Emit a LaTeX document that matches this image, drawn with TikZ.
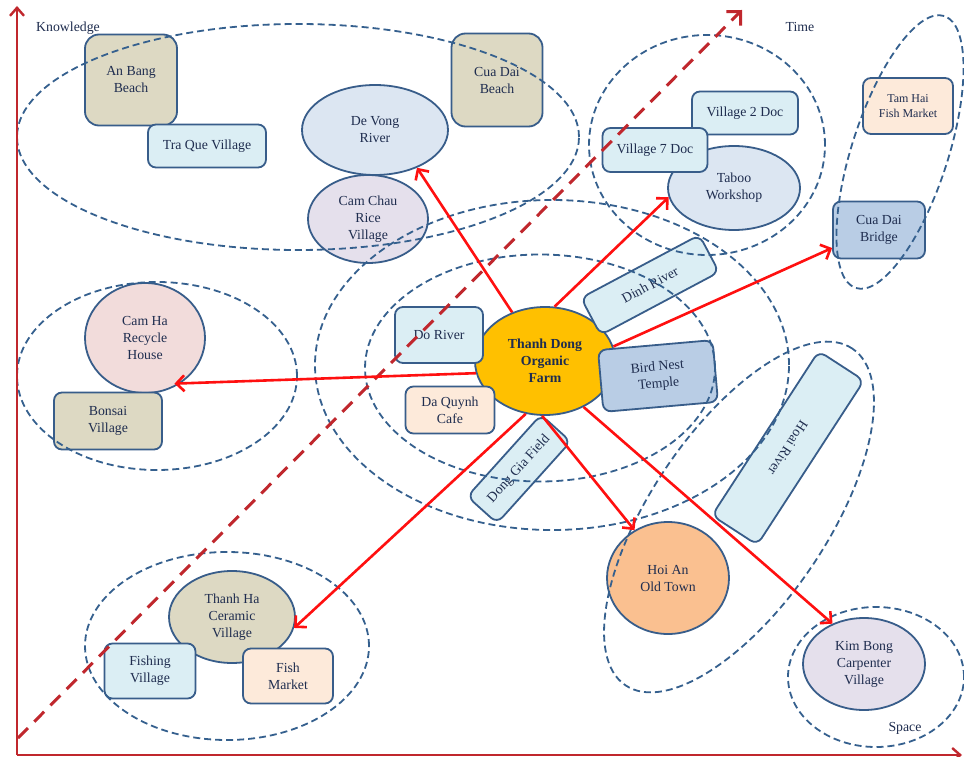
\documentclass[tikz,border=0pt]{standalone}
\usepackage{fontspec}
\setmainfont{Liberation Serif}
\usetikzlibrary{shapes.geometric,arrows.meta}
\definecolor{bord}{HTML}{385D8A}
\definecolor{zonec}{HTML}{35608E}
\definecolor{txt}{HTML}{1F2D4F}
\definecolor{tanf}{HTML}{DDD9C3}
\definecolor{lbluef}{HTML}{DBEEF4}
\definecolor{obluef}{HTML}{DCE6F2}
\definecolor{lavf}{HTML}{E5E0EC}
\definecolor{peachf}{HTML}{FDEADA}
\definecolor{mbluef}{HTML}{B9CDE5}
\definecolor{pinkf}{HTML}{F2DCDB}
\definecolor{orangef}{HTML}{FAC090}
\definecolor{goldf}{HTML}{FFC000}
\definecolor{axisc}{HTML}{C0272D}
\definecolor{linkc}{HTML}{FF1010}
\newcommand\nfont{\fontsize{13.8}{17}\selectfont}
\newcommand\sfont{\fontsize{12}{14.5}\selectfont}
\begin{document}
\begin{tikzpicture}[x=1pt,y=-1pt,
  box/.style={draw=bord, line width=1.8pt, rounded corners=8pt, align=center, inner sep=2pt, font=\nfont, text=txt},
  oval/.style={ellipse, draw=bord, line width=1.8pt, align=center, inner sep=0pt, font=\nfont, text=txt},
  zone/.style={ellipse, draw=zonec, line width=1.8pt, dash pattern=on 7pt off 4pt, inner sep=0pt},
  link/.style={draw=linkc, line width=2.6pt, -{Straight Barb[length=8pt,width=16pt,line width=2.6pt]}},
  axisline/.style={draw=axisc, line width=2.4pt, -{Straight Barb[length=8pt,width=14pt,line width=2.4pt]}},
  diag/.style={draw=axisc, line width=3pt, dash pattern=on 14pt off 9pt, -{Straight Barb[length=10pt,width=20pt,line width=3pt]}},
  lbl/.style={font=\nfont, text=txt, inner sep=0pt}]
\useasboundingbox[fill=white] (0,0) rectangle (964,757);

% nodes
\node[box, fill=tanf, minimum width=92pt, minimum height=91pt, rounded corners=14pt] (anbang) at (131,80) {An Bang\\Beach};
\node[box, fill=lbluef, minimum width=118pt, minimum height=43pt] (traque) at (207,146) {Tra Que Village};
\node[oval, fill=obluef, minimum width=146pt, minimum height=90pt] (devong) at (375,130) {De Vong\\River};
\node[oval, fill=lavf, minimum width=120pt, minimum height=88pt] (camchau) at (368,219) {Cam Chau\\Rice\\Village};
\node[box, fill=tanf, minimum width=91pt, minimum height=93pt, rounded corners=14pt] (cuadai) at (497,80) {Cua Dai\\Beach};
\node[box, fill=lbluef, minimum width=106pt, minimum height=43pt] (vtwo) at (745,113) {Village 2 Doc};
\node[oval, fill=obluef, minimum width=132pt, minimum height=84pt] (taboo) at (734,188) {Taboo\\Workshop};
\node[box, fill=lbluef, minimum width=105pt, minimum height=44pt] (vseven) at (655,150) {Village 7 Doc};
\node[box, fill=peachf, minimum width=90pt, minimum height=56pt, font=\sfont] (tamhai) at (908,106) {Tam Hai\\Fish Market};
\node[box, fill=mbluef, minimum width=92pt, minimum height=57pt] (bridge) at (879,230) {Cua Dai\\Bridge};
\node[oval, fill=goldf, minimum width=140pt, minimum height=108pt, font=\nfont\bfseries] (farm) at (545,361) {Thanh Dong\\Organic\\Farm};
\node[box, fill=lbluef, minimum width=134pt, minimum height=42pt, rotate=28] (dinh) at (650,285) {Dinh River};
\node[box, fill=lbluef, minimum width=88pt, minimum height=56pt] (doriver) at (439,335) {Do River};
\node[box, fill=peachf, minimum width=89pt, minimum height=47pt] (daquynh) at (450,410) {Da Quynh\\Cafe};
\node[box, fill=lbluef, minimum width=110pt, minimum height=40pt, rotate=48] (donggia) at (519,469) {Dong Gia Field};
\node[box, fill=mbluef, minimum width=115pt, minimum height=62pt, rotate=5] (birdnest) at (658,376) {Bird Nest\\Temple};
\node[oval, fill=pinkf, minimum width=120pt, minimum height=110pt] (camha) at (145,338) {Cam Ha\\Recycle\\House};
\node[box, fill=tanf, minimum width=108pt, minimum height=57pt] (bonsai) at (108,421) {Bonsai\\Village};
\node[box, fill=lbluef, minimum width=196pt, minimum height=54pt, rotate=-123] (hoai) at (788,448) {Hoai River};
\node[oval, fill=orangef, minimum width=122pt, minimum height=112pt] (hoian) at (668,578) {Hoi An\\Old Town};
\node[oval, fill=lavf, minimum width=122pt, minimum height=92pt] (kimbong) at (864,664) {Kim Bong\\Carpenter\\Village};
\node[oval, fill=tanf, minimum width=126pt, minimum height=92pt] (thanhha) at (232,617) {Thanh Ha\\Ceramic\\Village};
\node[box, fill=lbluef, minimum width=91pt, minimum height=55pt] (fishing) at (150,671) {Fishing\\Village};
\node[box, fill=peachf, minimum width=90pt, minimum height=55pt] (fishmkt) at (288,676) {Fish\\Market};

% dashed zones
\node[zone, minimum width=562pt, minimum height=226pt] (zknow) at (298,137) {};
\node[zone, minimum width=236pt, minimum height=220pt] (zdoc) at (707,145) {};
\node[zone, minimum width=286pt, minimum height=96pt, rotate=72] (zbridge) at (900,152) {};
\node[zone, minimum width=474pt, minimum height=330pt] (zouter) at (552,365) {};
\node[zone, minimum width=350pt, minimum height=227pt] (zinner) at (540,368) {};
\node[zone, minimum width=280pt, minimum height=188pt] (zcamha) at (157,376) {};
\node[zone, minimum width=284pt, minimum height=188pt] (zthanhha) at (227,646) {};
\node[zone, minimum width=406pt, minimum height=176pt, rotate=56] (zhoai) at (739,517) {};
\node[zone, minimum width=176pt, minimum height=140pt] (zkim) at (876,677) {};

% axes
\coordinate (orig) at (17,755);
\coordinate (ytop) at (17,6);
\coordinate (xend) at (962,755);
\coordinate (dstart) at (18,738);
\coordinate (dend) at (742,10);
\draw[axisline] (orig) -- (ytop);
\draw[axisline] (orig) -- (xend);
\draw[diag] (dstart) -- (dend);

% labels
\node[lbl] (knowledge) at (68,28) {Knowledge};
\node[lbl] (time) at (800,27) {Time};
\node[lbl] (space) at (905,728) {Space};

% red links
\draw[link] (farm.124) -- (devong.-42);
\draw[link] (farm.80) -- (taboo.-172);
\draw[link] (farm.12) -- (bridge.-159);
\draw[link, shorten >=-6pt] (farm.-170) -- (camha.-52);
\draw[link] (farm.-110) -- (thanhha.-10);
\draw[link] (farm.-93) -- (hoian.125);
\draw[link] (farm.-50) -- (kimbong.128);
\end{tikzpicture}
\end{document}
